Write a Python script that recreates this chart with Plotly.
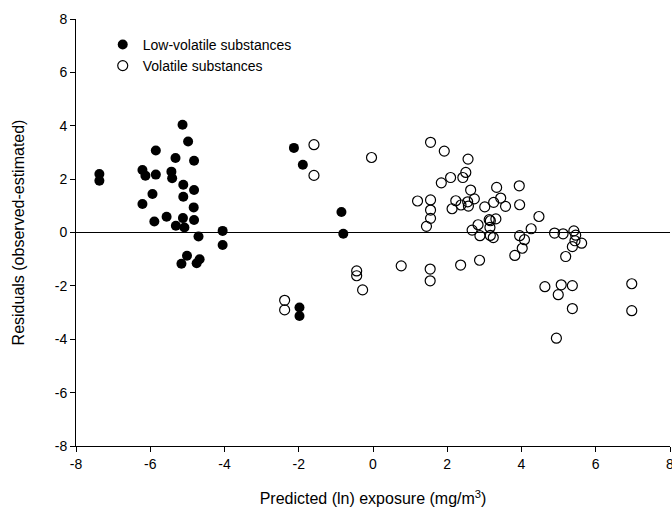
import plotly.graph_objects as go

# Low-volatile substances (filled)
low_x = [-7.37, -7.37, -5.13, -4.98, -5.85, -5.32, -4.82, -6.21, -6.13, -5.85,
         -5.43, -5.41, -5.11, -4.82, -5.94, -5.11, -6.21, -4.83, -5.56, -5.89,
         -5.12, -4.82, -5.31, -5.08, -4.05, -4.70, -4.05, -5.01, -5.16, -4.67,
         -4.75, -2.13, -1.89, -0.85, -0.80, -1.98, -1.98]
low_y = [2.19, 1.94, 4.04, 3.41, 3.07, 2.79, 2.69, 2.34, 2.13, 2.17,
         2.28, 2.03, 1.79, 1.59, 1.44, 1.34, 1.07, 0.94, 0.59, 0.41,
         0.54, 0.47, 0.25, 0.19, 0.06, -0.15, -0.47, -0.87, -1.17, -1.00,
         -1.15, 3.17, 2.54, 0.77, -0.05, -2.81, -3.13]

# Volatile substances (open)
vol_x = [-1.59, -1.59, -0.04, -0.44, -0.44, -0.28, -2.38, -2.38,
         1.55, 1.92, 2.56, 2.50, 2.42, 2.09, 1.84, 2.63, 3.33, 3.94,
         1.20, 1.55, 2.23, 2.55, 2.73, 3.44, 3.25, 3.57, 3.01, 3.95,
         2.13, 2.37, 2.57, 1.55, 1.55, 1.44, 3.13, 3.31, 3.16, 2.83,
         2.67, 2.88, 3.16, 3.24, 3.15, 4.47, 4.26, 3.95, 4.08, 4.02,
         3.82, 0.76, 1.54, 1.54, 2.36, 2.87, 4.63,
         4.89, 5.12, 5.41, 5.46, 5.44, 5.62, 5.37, 5.19, 5.07, 5.37,
         4.99, 5.37, 4.94, 6.97, 6.97]
vol_y = [3.29, 2.14, 2.81, -1.44, -1.62, -2.15, -2.54, -2.90,
         3.38, 3.05, 2.75, 2.25, 2.06, 2.06, 1.86, 1.59, 1.69, 1.75,
         1.18, 1.22, 1.19, 1.15, 1.26, 1.29, 1.13, 0.98, 0.96, 1.04,
         0.89, 1.03, 0.99, 0.84, 0.53, 0.23, 0.48, 0.51, 0.44, 0.29,
         0.09, -0.12, -0.11, -0.19, 0.19, 0.60, 0.14, -0.12, -0.27, -0.59,
         -0.86, -1.25, -1.37, -1.81, -1.22, -1.04, -2.03,
         -0.02, -0.05, 0.06, -0.10, -0.31, -0.40, -0.53, -0.90, -1.96, -1.99,
         -2.33, -2.85, -3.96, -1.92, -2.93]

ticks = [-8, -6, -4, -2, 0, 2, 4, 6, 8]
tick_labels = ["-8", "-6", "-4", "-2", "0", "2", "4", "6", "8"]

FONT = "Liberation Sans, Arial, sans-serif"

fig = go.Figure()
fig.add_trace(go.Scatter(
    x=low_x, y=low_y, mode="markers", name="Low-volatile substances",
    marker=dict(symbol="circle", size=10, color="black", line=dict(width=0)),
))
fig.add_trace(go.Scatter(
    x=vol_x, y=vol_y, mode="markers", name="Volatile substances",
    marker=dict(symbol="circle-open", size=10, color="black", line=dict(width=1.2)),
))

axis_common = dict(
    showgrid=False, showline=True, linecolor="black", linewidth=1,
    ticks="outside", ticklen=5, tickwidth=1, tickcolor="black",
    tickfont=dict(family=FONT, size=14, color="black"),
    tickvals=ticks, ticktext=tick_labels, mirror=False, automargin=False,
    ticklabeloverflow="allow",
)

fig.update_layout(
    width=672, height=517,
    margin=dict(l=76, r=2, t=19, b=71),
    plot_bgcolor="white", paper_bgcolor="white",
    font=dict(family=FONT, color="black"),
    xaxis=dict(range=[-8, 8], zeroline=False,
               title=dict(text="Predicted (ln) exposure (mg/m<sup>3</sup>)",
                          font=dict(family=FONT, size=16, color="black"), standoff=22),
               **axis_common),
    yaxis=dict(range=[-8, 8], zeroline=True, zerolinecolor="black", zerolinewidth=1,
               title=dict(text="Residuals (observed-estimated)",
                          font=dict(family=FONT, size=16, color="black"), standoff=26),
               **axis_common),
    showlegend=True,
    legend=dict(x=0.045, y=0.977, xanchor="left", yanchor="top",
                bgcolor="rgba(0,0,0,0)", borderwidth=0,
                font=dict(family=FONT, size=14, color="black"),
                tracegroupgap=0),
)

fig.write_html(
    "out.html",
    config={"displayModeBar": False},
    post_script="document.body.style.margin='0';document.body.style.overflow='hidden';",
)
